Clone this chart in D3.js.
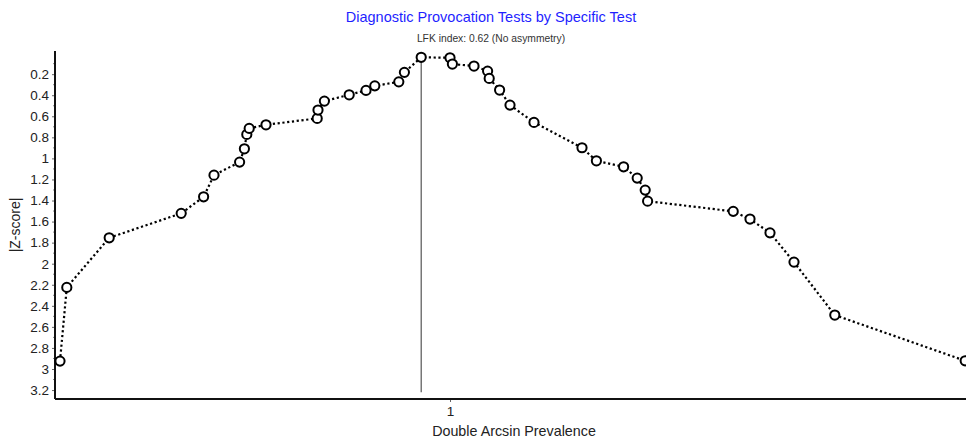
<!DOCTYPE html>
<html>
<head>
<meta charset="utf-8">
<script src="https://cdn.jsdelivr.net/npm/d3@7"></script>
<style>
  html, body { margin: 0; padding: 0; background: #fff; }
  svg { display: block; font-family: "Liberation Sans", Arial, sans-serif; }
</style>
</head>
<body>
<script>
var width = 966;
var height = 446;

var title = 'Diagnostic Provocation Tests by Specific Test';
var subtitle = 'LFK index: 0.62 (No asymmetry)';
var x_label = 'Double Arcsin Prevalence';
var y_label = '|Z-score|';

// double arcsin prevalence of each test, sorted
var prevalence = [0.5125, 0.521, 0.574, 0.664, 0.692, 0.705, 0.737, 0.743, 0.746, 0.749,
    0.770, 0.834, 0.835, 0.843, 0.874, 0.895, 0.906, 0.936, 0.943, 0.964,
    1.000, 1.003, 1.030, 1.047, 1.049, 1.062, 1.075, 1.105, 1.165, 1.183,
    1.217, 1.234, 1.244, 1.247, 1.354, 1.375, 1.400, 1.430, 1.481, 1.644];

// |Z-score| of each test
var z_score = [2.925, 2.225, 1.754, 1.522, 1.365, 1.159, 1.035, 0.909, 0.772, 0.715,
    0.681, 0.620, 0.541, 0.456, 0.396, 0.354, 0.311, 0.273, 0.183, 0.040,
    0.044, 0.104, 0.123, 0.171, 0.240, 0.351, 0.494, 0.658, 0.899, 1.023,
    1.080, 1.187, 1.301, 1.406, 1.503, 1.576, 1.707, 1.985, 2.488, 2.922];

var x_ticks = [1];
var y_ticks = [0.2, 0.4, 0.6, 0.8, 1, 1.2, 1.4, 1.6, 1.8, 2, 2.2, 2.4, 2.6, 2.8, 3, 3.2];
var y_minor = [0.1, 0.3, 0.5, 0.7, 0.9, 1.1, 1.3, 1.5, 1.7, 1.9, 2.1, 2.3, 2.5, 2.7, 2.9, 3.1];

var points = prevalence.map(function(d, i) { return { x: d, z: z_score[i] }; });
var top_point = points.reduce(function(a, b) { return b.z < a.z ? b : a; });

var plot = { left: 55, right: 966, top: 51, bottom: 399 };

var x = d3.scaleLinear().domain([0.50625, 1.645]).range([plot.left, plot.right]);
var y = d3.scaleLinear().domain([-0.02, 3.285]).range([plot.top, plot.bottom]);

var svg = d3.select('body')
    .append('svg')
    .attr('width', width)
    .attr('height', height);

// titles
svg.append('text')
    .attr('x', 491)
    .attr('y', 22)
    .attr('text-anchor', 'middle')
    .style('font-size', '14.5px')
    .style('fill', '#1f1fff')
    .text(title);

svg.append('text')
    .attr('x', 491)
    .attr('y', 42)
    .attr('text-anchor', 'middle')
    .style('font-size', '10.3px')
    .style('fill', '#333')
    .text(subtitle);

// y axis
var y_axis = svg.append('g')
    .attr('transform', `translate(${plot.left}, 0)`)
    .call(d3.axisLeft(y).tickValues(y_ticks).tickSize(3).tickPadding(3).tickFormat(d3.format('~g')));
y_axis.select('.domain').remove();
y_axis.selectAll('.tick line').attr('stroke', '#666');
y_axis.selectAll('.tick text')
    .style('font-size', '13.5px')
    .style('font-family', '"Liberation Sans", Arial, sans-serif')
    .style('fill', '#222');

svg.append('g')
    .selectAll('line')
    .data(y_minor)
    .enter()
    .append('line')
    .attr('x1', plot.left - 2)
    .attr('x2', plot.left)
    .attr('y1', function(d) { return y(d); })
    .attr('y2', function(d) { return y(d); })
    .attr('stroke', '#888');

// x axis
var x_axis = svg.append('g')
    .attr('transform', `translate(0, ${plot.bottom})`)
    .call(d3.axisBottom(x).tickValues(x_ticks).tickSize(3).tickPadding(4).tickFormat(d3.format('~g')));
x_axis.select('.domain').remove();
x_axis.selectAll('.tick line').attr('stroke', '#666');
x_axis.selectAll('.tick text')
    .style('font-size', '13.5px')
    .style('font-family', '"Liberation Sans", Arial, sans-serif')
    .style('fill', '#222');

// axis lines
svg.append('line')
    .attr('x1', plot.left).attr('x2', plot.left)
    .attr('y1', plot.top).attr('y2', plot.bottom)
    .attr('stroke', '#111').attr('stroke-width', 2);
svg.append('line')
    .attr('x1', plot.left).attr('x2', plot.right)
    .attr('y1', plot.bottom).attr('y2', plot.bottom)
    .attr('stroke', '#111').attr('stroke-width', 2);

// axis titles
svg.append('text')
    .attr('x', 514)
    .attr('y', 436)
    .attr('text-anchor', 'middle')
    .style('font-size', '14.3px')
    .style('fill', '#222')
    .text(x_label);

svg.append('text')
    .attr('transform', `translate(20, ${(plot.top + plot.bottom) / 2}) rotate(-90)`)
    .attr('text-anchor', 'middle')
    .style('font-size', '14px')
    .style('fill', '#222')
    .text(y_label);

// vertical line at the most precise test
svg.append('line')
    .attr('x1', x(top_point.x)).attr('x2', x(top_point.x))
    .attr('y1', y(top_point.z)).attr('y2', y(3.22))
    .attr('stroke', '#555')
    .attr('stroke-width', 1.2);

// dotted line
var line = d3.line()
    .x(function(d) { return x(d.x); })
    .y(function(d) { return y(d.z); });

svg.append('path')
    .datum(points)
    .attr('d', line)
    .attr('fill', 'none')
    .attr('stroke', '#000')
    .attr('stroke-width', 2.2)
    .attr('stroke-dasharray', '2.2,2.6');

svg.append('g')
    .selectAll('circle')
    .data(points)
    .enter()
    .append('circle')
    .attr('cx', function(d) { return x(d.x); })
    .attr('cy', function(d) { return y(d.z); })
    .attr('r', 4.6)
    .attr('fill', '#fff')
    .attr('stroke', '#000')
    .attr('stroke-width', 2);
</script>
</body>
</html>
